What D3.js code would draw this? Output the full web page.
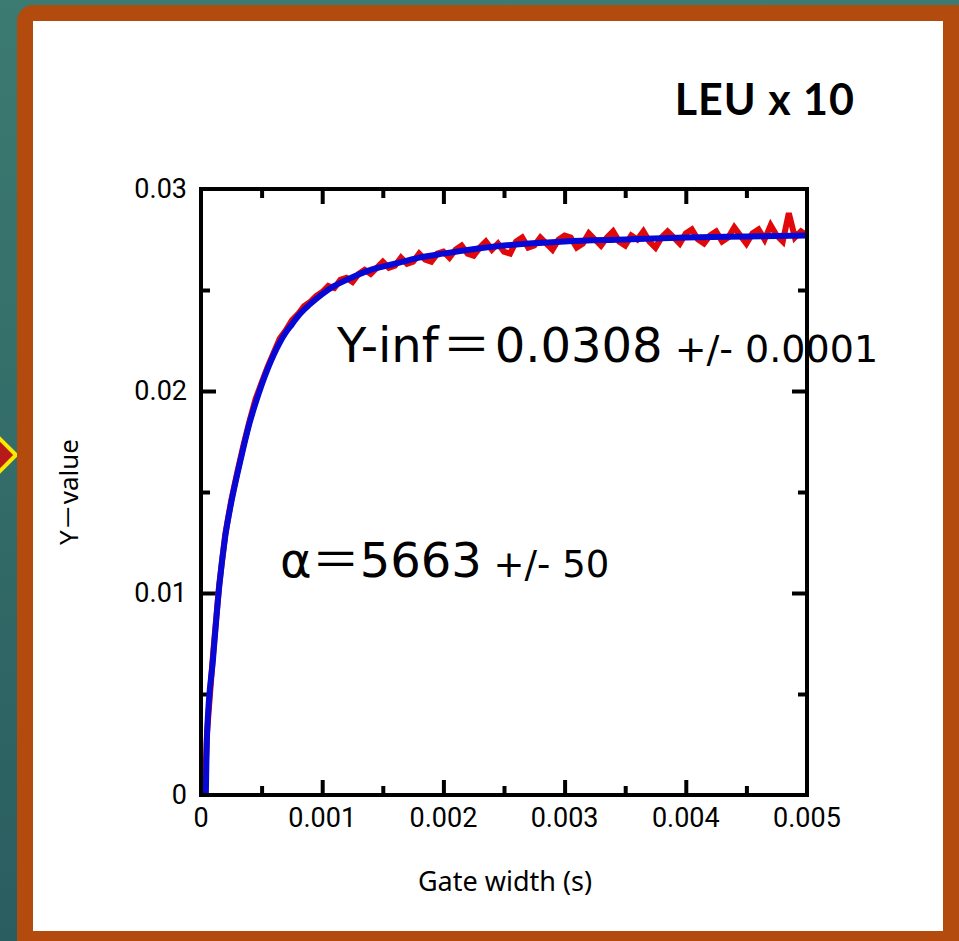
<!DOCTYPE html>
<html>
<head>
<meta charset="utf-8">
<script src="https://cdn.jsdelivr.net/npm/d3@7"></script>
<style>
  body { margin: 0; background: #3a7870; }
  svg { display: block; }
</style>
</head>
<body>
<div id="chart"></div>
<script>
// gate width (s): first gate, then every 0.05 ms
const gateTimes = [0.00003].concat(d3.range(1, 101).map(i => i * 0.00005));

// measured Y-value (red trace)
const measured = [
  0.0000, 0.0031, 0.0070, 0.0104, 0.0129, 0.0146, 0.0160, 0.0173, 0.0185, 0.0196,
  0.0204, 0.0212, 0.0219, 0.0226, 0.0230, 0.0235, 0.0238, 0.0242, 0.0244, 0.0247,
  0.0249, 0.0252, 0.0251, 0.0255, 0.0256, 0.0254, 0.0258, 0.0260, 0.0258, 0.0261,
  0.0264, 0.0261, 0.0262, 0.0266, 0.0263, 0.0264, 0.0268, 0.0265, 0.0264, 0.0268,
  0.0269, 0.0266, 0.0270, 0.0272, 0.0268, 0.0267, 0.0271, 0.0274, 0.0270, 0.0273,
  0.0269, 0.0268, 0.0274, 0.0276, 0.0271, 0.0272, 0.0276, 0.0273, 0.0270, 0.0275,
  0.0277, 0.0276, 0.0271, 0.0273, 0.0278, 0.0275, 0.0272, 0.0276, 0.0279, 0.0274,
  0.0272, 0.0277, 0.0275, 0.0279, 0.0274, 0.0271, 0.0276, 0.0279, 0.0276, 0.0273,
  0.0278, 0.0280, 0.0275, 0.0273, 0.0277, 0.0279, 0.0274, 0.0276, 0.0281, 0.0277,
  0.0273, 0.0278, 0.0280, 0.0275, 0.0282, 0.0277, 0.0274, 0.0288, 0.0276, 0.0279,
  0.0277
];

// fitted curve (blue)
const fitTimes = [0.00004, 0.00005, 0.0001, 0.00015, 0.0002, 0.00025, 0.0003, 0.00035, 0.0004, 0.00045,
  0.0005, 0.00055, 0.0006, 0.00065, 0.0007, 0.00075, 0.0008, 0.0009, 0.001, 0.0011,
  0.0012, 0.0014, 0.0016, 0.0018, 0.002, 0.0025, 0.003, 0.0035, 0.004, 0.0045, 0.005];
const fitValues = [0, 0.0030, 0.0068, 0.0103, 0.0128, 0.0145, 0.0159, 0.0172, 0.0184, 0.0194,
  0.0203, 0.0211, 0.0218, 0.0224, 0.0229, 0.0233, 0.0237, 0.0243, 0.0248, 0.0252,
  0.0255, 0.0260, 0.0263, 0.0266, 0.0268, 0.0272, 0.0274, 0.0275, 0.0276, 0.02765, 0.0277];

const xMajor = [0, 0.001, 0.002, 0.003, 0.004, 0.005];
const xLabels = ["0", "0.001", "0.002", "0.003", "0.004", "0.005"];
const yMajor = [0, 0.01, 0.02, 0.03];
const yLabels = ["0", "0.01", "0.02", "0.03"];

const W = 959, H = 941;
const svg = d3.select("#chart").append("svg")
    .attr("width", W)
    .attr("height", H);

// slide background
const defs = svg.append("defs");
const grad = defs.append("linearGradient")
    .attr("id", "bg").attr("x1", 0).attr("y1", 0).attr("x2", 0).attr("y2", 1);
grad.append("stop").attr("offset", "0%").attr("stop-color", "#3c7b71");
grad.append("stop").attr("offset", "100%").attr("stop-color", "#2a5d60");
svg.append("rect").attr("width", W).attr("height", H).attr("fill", "url(#bg)");

// arrow marker peeking in from the left
svg.append("polygon")
    .attr("points", "16,455 -10,429 -36,455 -10,481")
    .attr("fill", "#b81a1a")
    .attr("stroke", "#ffe800")
    .attr("stroke-width", 4);

// orange frame + white panel
svg.append("rect")
    .attr("x", 17).attr("y", 5)
    .attr("width", 980).attr("height", 980)
    .attr("rx", 16)
    .attr("fill", "#b34b0e");
svg.append("rect")
    .attr("x", 33).attr("y", 21)
    .attr("width", 910).attr("height", 910)
    .attr("fill", "#fff");

// plot area
const pLeft = 201, pRight = 807, pTop = 189, pBottom = 795;
const x = d3.scaleLinear().domain([0, 0.005]).range([pLeft, pRight]);
const y = d3.scaleLinear().domain([0, 0.03]).range([pBottom, pTop]);

const xMinor = [0.0005, 0.0015, 0.0025, 0.0035, 0.0045];
const yMinor = [0.005, 0.015, 0.025];

function styleAxis(g) {
    g.select(".domain").remove();
    g.selectAll(".tick line").attr("stroke", "#000").attr("stroke-width", 4);
}

// inward ticks on all four sides
svg.append("g").attr("transform", `translate(0,${pBottom})`)
    .call(d3.axisBottom(x).tickValues(xMajor.slice(1, -1)).tickSize(-15).tickFormat(""))
    .call(styleAxis);
svg.append("g").attr("transform", `translate(0,${pBottom})`)
    .call(d3.axisBottom(x).tickValues(xMinor).tickSize(-9).tickFormat(""))
    .call(styleAxis);
svg.append("g").attr("transform", `translate(0,${pTop})`)
    .call(d3.axisTop(x).tickValues(xMajor.slice(1, -1)).tickSize(-15).tickFormat(""))
    .call(styleAxis);
svg.append("g").attr("transform", `translate(0,${pTop})`)
    .call(d3.axisTop(x).tickValues(xMinor).tickSize(-9).tickFormat(""))
    .call(styleAxis);
svg.append("g").attr("transform", `translate(${pLeft},0)`)
    .call(d3.axisLeft(y).tickValues(yMajor.slice(1, -1)).tickSize(-15).tickFormat(""))
    .call(styleAxis);
svg.append("g").attr("transform", `translate(${pLeft},0)`)
    .call(d3.axisLeft(y).tickValues(yMinor).tickSize(-9).tickFormat(""))
    .call(styleAxis);
svg.append("g").attr("transform", `translate(${pRight},0)`)
    .call(d3.axisRight(y).tickValues(yMajor.slice(1, -1)).tickSize(-15).tickFormat(""))
    .call(styleAxis);
svg.append("g").attr("transform", `translate(${pRight},0)`)
    .call(d3.axisRight(y).tickValues(yMinor).tickSize(-9).tickFormat(""))
    .call(styleAxis);

// tick labels
svg.append("g").selectAll("text")
    .data(xMajor)
    .join("text")
    .attr("x", d => x(d))
    .attr("y", pBottom + 32)
    .attr("text-anchor", "middle")
    .style("font-family", "Roboto, 'Liberation Sans', sans-serif")
    .style("font-size", "27px")
    .style("fill", "#000")
    .text((d, i) => xLabels[i]);

svg.append("g").selectAll("text")
    .data(yMajor)
    .join("text")
    .attr("x", pLeft - 14)
    .attr("y", d => y(d) + 9)
    .attr("text-anchor", "end")
    .style("font-family", "Roboto, 'Liberation Sans', sans-serif")
    .style("font-size", "27px")
    .style("fill", "#000")
    .text((d, i) => yLabels[i]);

// data
const redLine = d3.line()
    .x((d, i) => x(gateTimes[i]))
    .y(d => y(d));
svg.append("path")
    .datum(measured)
    .attr("d", redLine)
    .attr("fill", "none")
    .attr("stroke", "#e00808")
    .attr("stroke-width", 6);

const blueLine = d3.line()
    .x((d, i) => x(fitTimes[i]))
    .y(d => y(d))
    .curve(d3.curveMonotoneX);
svg.append("path")
    .datum(fitValues)
    .attr("d", blueLine)
    .attr("fill", "none")
    .attr("stroke", "#0808d6")
    .attr("stroke-width", 6);

// frame
svg.append("rect")
    .attr("x", pLeft).attr("y", pTop)
    .attr("width", pRight - pLeft).attr("height", pBottom - pTop)
    .attr("fill", "none")
    .attr("stroke", "#000")
    .attr("stroke-width", 4);

// axis titles
svg.append("text")
    .attr("x", 505)
    .attr("y", 891)
    .attr("text-anchor", "middle")
    .style("font-family", "'Noto Sans', 'Noto Sans CJK JP', sans-serif")
    .style("font-size", "27px")
    .text("Gate width (s)");

svg.append("text")
    .attr("transform", "translate(78,492) rotate(-90)")
    .attr("text-anchor", "middle")
    .style("font-family", "'Noto Sans', 'Noto Sans CJK JP', sans-serif")
    .style("font-size", "26px")
    .text("Y－value");

// title
svg.append("text")
    .attr("x", 855)
    .attr("y", 115)
    .attr("text-anchor", "end")
    .style("font-family", "Lato, 'Open Sans', sans-serif")
    .style("font-weight", "bold")
    .style("font-size", "43px")
    .style("letter-spacing", "1px")
    .text("LEU x 10");

// fit results
const cjk = "'Noto Sans CJK JP', sans-serif";
const yinf = svg.append("text")
    .attr("x", 337)
    .attr("y", 362)
    .style("font-family", "'DejaVu Sans', Verdana, sans-serif")
    .style("fill", "#000");
yinf.append("tspan").style("font-size", "48px").text("Y-inf");
yinf.append("tspan").attr("dx", 4).style("font-size", "48px").style("font-family", cjk).text("＝");
yinf.append("tspan").attr("dx", 4).style("font-size", "48px").text("0.0308");
yinf.append("tspan").style("font-size", "38px").text(" +/- 0.0001");

const alpha = svg.append("text")
    .attr("x", 280)
    .attr("y", 577)
    .style("font-family", "'DejaVu Sans', Verdana, sans-serif")
    .style("fill", "#000");
alpha.append("tspan").style("font-size", "48px").text("α");
alpha.append("tspan").style("font-size", "48px").style("font-family", cjk).text("＝");
alpha.append("tspan").style("font-size", "48px").text("5663");
alpha.append("tspan").style("font-size", "37px").text(" +/- 50");
</script>
</body>
</html>
